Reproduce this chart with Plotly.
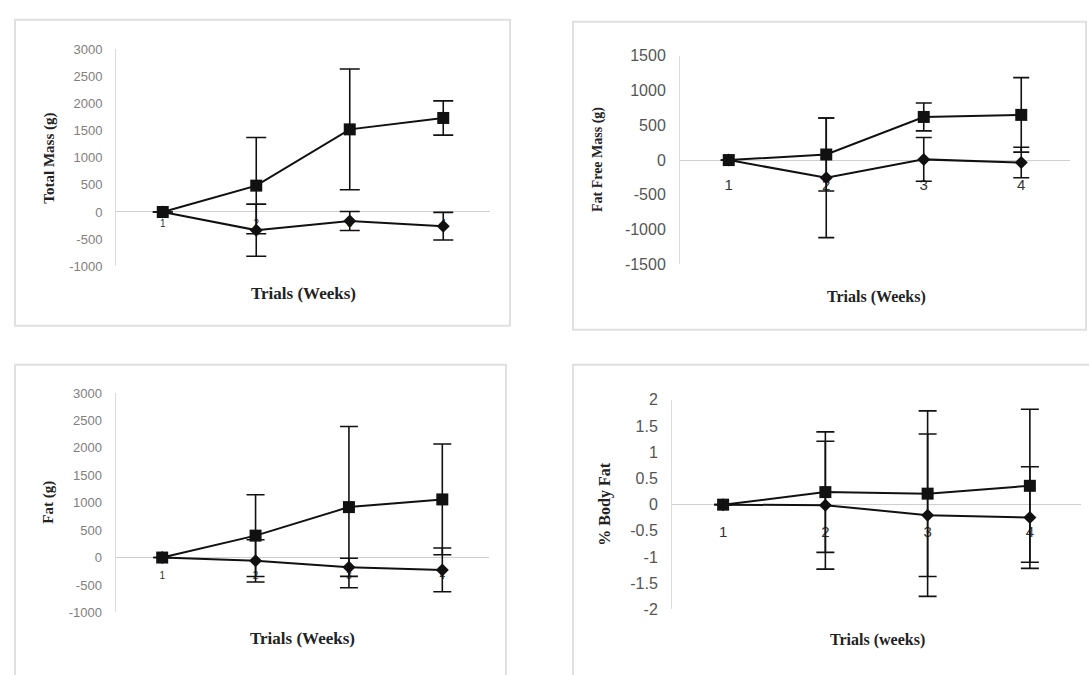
import plotly.graph_objects as go

W, H = 1089, 675

# Trial weeks (x categories)
weeks = [1, 2, 3, 4]
week_labels = ["1", "2", "3", "4"]

# Total mass change (g): squares and diamonds, with SD bars
mass_sq = [0, 485, 1520, 1730]
mass_sq_err = [0, 885, 1110, 315]
mass_di = [0, -335, -167, -262]
mass_di_err = [0, 480, 175, 255]

# Fat free mass change (g)
ffm_sq = [0, 80, 620, 650]
ffm_sq_err = [0, 525, 200, 535]
ffm_di = [0, -255, 10, -35]
ffm_di_err = [0, 860, 315, 220]

# Fat change (g)
fat_sq = [0, 400, 920, 1060]
fat_sq_err = [0, 745, 1470, 1010]
fat_di = [0, -60, -178, -225]
fat_di_err = [0, 385, 165, 400]

# Percent body fat change
pbf_sq = [0, 0.24, 0.21, 0.36]
pbf_sq_err = [0, 1.15, 1.58, 1.46]
pbf_di = [0, -0.01, -0.20, -0.245]
pbf_di_err = [0, 1.22, 1.55, 0.97]

# Y tick values
mass_ticks = [-1000, -500, 0, 500, 1000, 1500, 2000, 2500, 3000]
ffm_ticks = [-1500, -1000, -500, 0, 500, 1000, 1500]
fat_ticks = [-1000, -500, 0, 500, 1000, 1500, 2000, 2500, 3000]
pbf_ticks = [-2, -1.5, -1, -0.5, 0, 0.5, 1, 1.5, 2]


def fx(px):
    return px / W


def fy(py):
    return 1 - py / H


def fmt(v):
    return "%g" % v


panels = [
    dict(sq=mass_sq, sqe=mass_sq_err, di=mass_di, die=mass_di_err, ticks=mass_ticks,
         xd=(116, 490), yd=(265, 42), tfs=13, tcol="#808080", xfs=10, xso=4,
         ytitle="Total Mass (g)", ytx=50, ytfs=15,
         xtitle="Trials (Weeks)", xtx=303, xty=293, xtfs=17,
         box=(15, 12, 510, 326), cap=10),
    dict(sq=ffm_sq, sqe=ffm_sq_err, di=ffm_di, die=ffm_di_err, ticks=ffm_ticks,
         xd=(680, 1070), yd=(263, 49), tfs=16, tcol="#555555", xfs=15, xso=14,
         ytitle="Fat Free Mass (g)", ytx=598, ytfs=14,
         xtitle="Trials (Weeks)", xtx=876, xty=296, xtfs=16,
         box=(573, 14, 1086, 330), cap=8),
    dict(sq=fat_sq, sqe=fat_sq_err, di=fat_di, die=fat_di_err, ticks=fat_ticks,
         xd=(115.5, 489), yd=(620, 395), tfs=13, tcol="#808080", xfs=10, xso=10,
         ytitle="Fat (g)", ytx=49, ytfs=15,
         xtitle="Trials (Weeks)", xtx=302, xty=647, xtfs=17,
         box=(15, 366, 506, 690), cap=9),
    dict(sq=pbf_sq, sqe=pbf_sq_err, di=pbf_di, die=pbf_di_err, ticks=pbf_ticks,
         xd=(672, 1081), yd=(617, 402), tfs=16, tcol="#555555", xfs=15, xso=16,
         ytitle="% Body Fat", ytx=605, ytfs=16,
         xtitle="Trials (weeks)", xtx=877, xty=648, xtfs=16,
         box=(573, 366, 1100, 690), cap=9),
]

fig = go.Figure()
layout = dict(
    width=W, height=H,
    margin=dict(l=0, r=0, t=0, b=0),
    paper_bgcolor="white", plot_bgcolor="rgba(0,0,0,0)",
    showlegend=False,
    shapes=[], annotations=[],
)

for i, p in enumerate(panels, start=1):
    xa = "x" if i == 1 else f"x{i}"
    ya = "y" if i == 1 else f"y{i}"
    xkey = "xaxis" if i == 1 else f"xaxis{i}"
    ykey = "yaxis" if i == 1 else f"yaxis{i}"

    ymin, ymax = p["ticks"][0], p["ticks"][-1]
    y0, y1 = fy(p["yd"][0]), fy(p["yd"][1])
    # x labels sit on the zero line, as in a spreadsheet chart
    zero_pos = y0 + (0 - ymin) / (ymax - ymin) * (y1 - y0)

    layout[ykey] = dict(
        domain=[y0, y1], range=[ymin, ymax], anchor=xa,
        tickvals=p["ticks"], ticktext=[fmt(v) for v in p["ticks"]],
        tickfont=dict(family="Liberation Sans, Arial", size=p["tfs"], color=p["tcol"]),
        ticks="", ticklabelstandoff=10,
        showgrid=False, showline=True, linecolor="#dcdcdc", linewidth=1,
        zeroline=True, zerolinecolor="#cfcfcf", zerolinewidth=1,
    )
    layout[xkey] = dict(
        domain=[fx(p["xd"][0]), fx(p["xd"][1])], range=[0.5, 4.5],
        anchor="free", position=zero_pos, side="bottom",
        tickvals=weeks, ticktext=week_labels, ticks="",
        ticklabelstandoff=p["xso"],
        tickfont=dict(family="Liberation Sans, Arial", size=p["xfs"], color="#333333"),
        showgrid=False, showline=False, zeroline=False, layer="below traces",
    )

    for vals, errs, sym, size in ((p["di"], p["die"], "diamond", 10),
                                  (p["sq"], p["sqe"], "square", 12)):
        fig.add_trace(go.Scatter(
            x=weeks, y=vals, xaxis=xa, yaxis=ya,
            mode="lines+markers",
            line=dict(color="#111111", width=2),
            marker=dict(symbol=sym, size=size, color="#111111"),
            error_y=dict(type="data", array=errs, visible=True,
                         color="#111111", thickness=1.6, width=p["cap"]),
            cliponaxis=False,
        ))

    bx0, by0, bx1, by1 = p["box"]
    layout["shapes"].append(dict(
        type="rect", xref="paper", yref="paper", layer="below",
        x0=fx(bx0), x1=fx(bx1), y0=fy(by1), y1=fy(by0),
        line=dict(color="#e0e0e0", width=2), fillcolor="rgba(0,0,0,0)",
    ))

    layout["annotations"].append(dict(
        xref="paper", yref="paper", x=fx(p["ytx"]), y=(y0 + y1) / 2,
        text="<b>" + p["ytitle"] + "</b>", textangle=-90, showarrow=False,
        xanchor="center", yanchor="middle",
        font=dict(family="Liberation Serif, Times New Roman", size=p["ytfs"], color="#222222"),
    ))
    layout["annotations"].append(dict(
        xref="paper", yref="paper", x=fx(p["xtx"]), y=fy(p["xty"]),
        text="<b>" + p["xtitle"] + "</b>", showarrow=False,
        xanchor="center", yanchor="middle",
        font=dict(family="Liberation Serif, Times New Roman", size=p["xtfs"], color="#222222"),
    ))

fig.update_layout(**layout)
fig.write_html("out.html")
